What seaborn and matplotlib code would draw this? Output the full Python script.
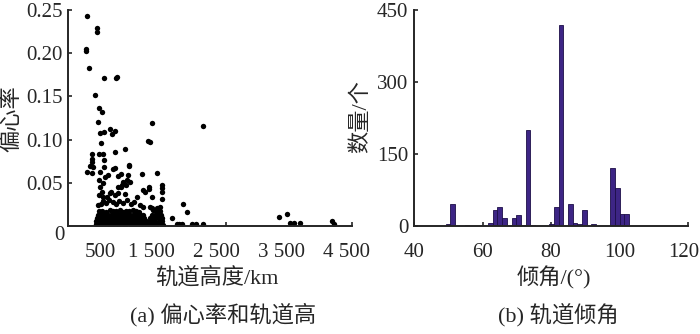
import numpy as np
import pandas as pd
import matplotlib
matplotlib.use("Agg")
import matplotlib.pyplot as plt
import matplotlib.transforms as mtransforms
import seaborn as sns

# ---- (a) eccentricity vs altitude ----
# scattered objects (altitude km, eccentricity)
alt_sparse = [503, 666, 666, 492, 492, 538, 769, 954, 969, 626, 688, 734, 681,
              703, 774, 861, 887, 938, 1503, 2292, 1450, 1472, 727, 1087, 934,
              697, 749, 580, 580, 580, 554, 604, 764, 774, 512, 580, 707, 907,
              938, 1149, 1158, 1349, 1580, 784, 835, 688, 758, 989, 1026, 1169,
              1030, 1107, 1456, 1461, 1666, 1666, 1666, 1373, 1404, 688, 758,
              872, 938, 989, 1097, 1272, 1512, 1666, 1989, 2041, 1810, 3465,
              3588, 4271, 3630, 3700, 3784, 4307, 1892, 1930, 1969, 2122, 2180,
              2292, 1630, 1323, 1373, 1477, 1503, 1580, 707, 734, 811, 861, 989,
              1041, 1066, 1118, 1143, 681, 760, 800, 850, 900, 950, 1000, 1060,
              1120, 1180, 720, 1230]
ecc_sparse = [0.2434, 0.229, 0.225, 0.205, 0.203, 0.183, 0.171, 0.171, 0.172,
              0.152, 0.136, 0.132, 0.120, 0.108, 0.1085, 0.1126, 0.106, 0.110,
              0.119, 0.116, 0.0987, 0.0969, 0.0957, 0.089, 0.0853, 0.0833,
              0.0833, 0.083, 0.077, 0.0745, 0.0698, 0.0686, 0.0764, 0.0688,
              0.0628, 0.061, 0.0628, 0.0656, 0.0671, 0.071, 0.0694, 0.0598,
              0.061, 0.057, 0.059, 0.0532, 0.0494, 0.0575, 0.0598, 0.0506,
              0.0455, 0.0475, 0.0455, 0.0432, 0.0475, 0.0436, 0.0397, 0.0417,
              0.0397, 0.0359, 0.034, 0.0397, 0.0359, 0.0378, 0.0367, 0.034,
              0.034, 0.0313, 0.0255, 0.0166, 0.0089, 0.0104, 0.0143, 0.0058,
              0.003, 0.004, 0.0035, 0.002, 0.002, 0.0025, 0.002, 0.002, 0.0022,
              0.002, 0.0224, 0.0243, 0.0224, 0.0224, 0.0205, 0.0205, 0.0455,
              0.0397, 0.034, 0.0378, 0.0455, 0.0475, 0.0513, 0.0532, 0.059,
              0.0243, 0.029, 0.027, 0.030, 0.028, 0.026, 0.029, 0.027, 0.030,
              0.026, 0.025, 0.028]

# dense cluster of near-circular orbits
alt_dense = [640, 690, 735, 785, 830, 880, 925, 975, 1020, 1070, 1115, 1165,
             1210, 1260, 1305, 1355, 1400, 1450, 1495, 1545, 1590, 1640, 1680,
             650, 700, 750, 800, 845, 895, 940, 990, 1040, 1085, 1135, 1180,
             1230, 1275, 1325, 1370, 1420, 1465, 1515, 1560, 1610, 1655,
             660, 715, 765, 815, 860, 910, 960, 1005, 1055, 1100, 1150, 1200,
             1245, 1295, 1340, 1385, 1480, 1530, 1575, 1620, 1665,
             670, 725, 780, 830, 880, 930, 980, 1030, 1075, 1125, 1175, 1225,
             1270, 1320, 1365, 1500, 1550, 1600, 1650,
             685, 745, 800, 855, 905, 955, 1010, 1060, 1110, 1160, 1210, 1260,
             1310, 1520, 1575, 1630]
ecc_dense = [0.0020, 0.0015, 0.0025, 0.0018, 0.0022, 0.0016, 0.0024, 0.0019,
             0.0021, 0.0017, 0.0023, 0.0020, 0.0016, 0.0025, 0.0018, 0.0022,
             0.0019, 0.0021, 0.0017, 0.0024, 0.0020, 0.0018, 0.0015,
             0.0055, 0.0050, 0.0058, 0.0047, 0.0053, 0.0056, 0.0049, 0.0052,
             0.0057, 0.0048, 0.0054, 0.0051, 0.0059, 0.0046, 0.0053, 0.0050,
             0.0055, 0.0048, 0.0056, 0.0052, 0.0049, 0.0054,
             0.0090, 0.0094, 0.0087, 0.0092, 0.0089, 0.0095, 0.0088, 0.0091,
             0.0096, 0.0086, 0.0093, 0.0090, 0.0094, 0.0088, 0.0092, 0.0087,
             0.0095, 0.0089, 0.0091, 0.0093, 0.0088,
             0.0130, 0.0126, 0.0134, 0.0128, 0.0132, 0.0125, 0.0135, 0.0129,
             0.0133, 0.0127, 0.0131, 0.0136, 0.0128, 0.0124, 0.0130, 0.0133,
             0.0127, 0.0135, 0.0129,
             0.0170, 0.0176, 0.0165, 0.0180, 0.0168, 0.0174, 0.0182, 0.0167,
             0.0178, 0.0171, 0.0185, 0.0169, 0.0163, 0.0190, 0.0175, 0.0168]

alt_tick_pos = [715, 1500, 2500, 3500, 4500]
alt_tick_labels = ["500", "1 500", "2 500", "3 500", "4 500"]
ecc_ticks = [0.05, 0.10, 0.15, 0.20, 0.25]

# ---- (b) inclination histogram ----
inc_bin_start = 46.53
inc_bin_width = 1.372
inc_counts = [1, 0, 5, 46, 0, 0, 3, 0, 0, 0,
              0, 6, 33, 39, 17, 0, 17, 22, 3, 201,
              2, 1, 1, 0, 5, 40, 419, 0, 45, 6,
              5, 33, 0, 4, 0, 0, 0, 121, 79, 24,
              26, 1, 0, 1, 1, 0, 0, 0, 0, 1]
inc_ticks = [40, 60, 80, 100, 120]
count_ticks = [0, 150, 300, 450]

orbit_df = pd.DataFrame({"alt": alt_sparse + alt_dense,
                         "ecc": ecc_sparse + ecc_dense})
edges = inc_bin_start + inc_bin_width * np.arange(len(inc_counts) + 1)
inc_df = pd.DataFrame({"inc": edges[:-1] + inc_bin_width / 2,
                       "n": inc_counts})

sns.set_style("white")
plt.rcParams["font.family"] = ["Liberation Serif", "Noto Sans CJK SC"]
plt.rcParams["axes.linewidth"] = 1.4

W, H = 700, 334
fig = plt.figure(figsize=(7, 3.34), dpi=100)
ax1 = fig.add_axes([68 / W, 1 - 226 / H, 284 / W, 216 / H])
ax2 = fig.add_axes([414 / W, 1 - 226 / H, 274 / W, 216 / H])

# scatter
sns.scatterplot(data=orbit_df, x="alt", y="ecc", ax=ax1, color="black",
                s=15, linewidth=0)
ax1.set_xlim(215, 4585)
ax1.set_ylim(0, 0.25)
ax1.set_xticks(alt_tick_pos)
ax1.set_xticklabels(alt_tick_labels)
ax1.set_xticks([708, 1677, 2646, 3631, 4585], minor=True)
ax1.set_yticks(ecc_ticks)
ax1.set_yticklabels([f"{v:.2f}" for v in ecc_ticks])
ax1.tick_params(axis="x", which="major", length=0, pad=12, labelsize=15)
ax1.tick_params(axis="x", which="minor", direction="in", length=3,
                width=1.2, bottom=True)
ax1.tick_params(axis="y", direction="in", length=3, width=1.2, pad=4,
                labelsize=15, left=True)
ax1.set_xlabel("")
ax1.set_ylabel("")

# histogram
sns.histplot(data=inc_df, x="inc", weights="n", bins=edges.tolist(), ax=ax2,
             color="#3d2585", edgecolor="#1c0e48", linewidth=0.6, alpha=1)
ax2.set_xlim(40, 120)
ax2.set_ylim(0, 450)
ax2.set_xticks(inc_ticks)
ax2.set_yticks(count_ticks)
ax2.tick_params(axis="x", direction="in", length=3, width=1.2, pad=12,
                labelsize=15, bottom=True)
ax2.tick_params(axis="y", direction="in", length=3, width=1.2, pad=4,
                labelsize=15, left=True)
# nudge the last label slightly left so it stays inside the canvas
last = ax2.get_xticklabels()[-1]
last.set_transform(last.get_transform() +
                   mtransforms.ScaledTranslation(-4 / 100, 0, fig.dpi_scale_trans))
ax2.set_xlabel("")
ax2.set_ylabel("")

for ax in (ax1, ax2):
    sns.despine(ax=ax)

fig.text(59 / W, 1 - 236 / H, "0", ha="center", va="center", fontsize=15)
fig.text(12 / W, 1 - 119 / H, "偏心率", rotation=90, ha="center",
         va="center", fontsize=16)
fig.text(361 / W, 1 - 117 / H, "数量/个", rotation=90, ha="center",
         va="center", fontsize=16)
fig.text(217 / W, 1 - 278 / H, "轨道高度/km", ha="center", va="center",
         fontsize=16)
fig.text(554 / W, 1 - 278 / H, "倾角/(°)", ha="center", va="center",
         fontsize=16)
fig.text(223 / W, 1 - 315 / H, "(a) 偏心率和轨道高", ha="center",
         va="center", fontsize=16)
fig.text(558 / W, 1 - 315 / H, "(b) 轨道倾角", ha="center", va="center",
         fontsize=16)

fig.savefig("out.png", dpi=100)
